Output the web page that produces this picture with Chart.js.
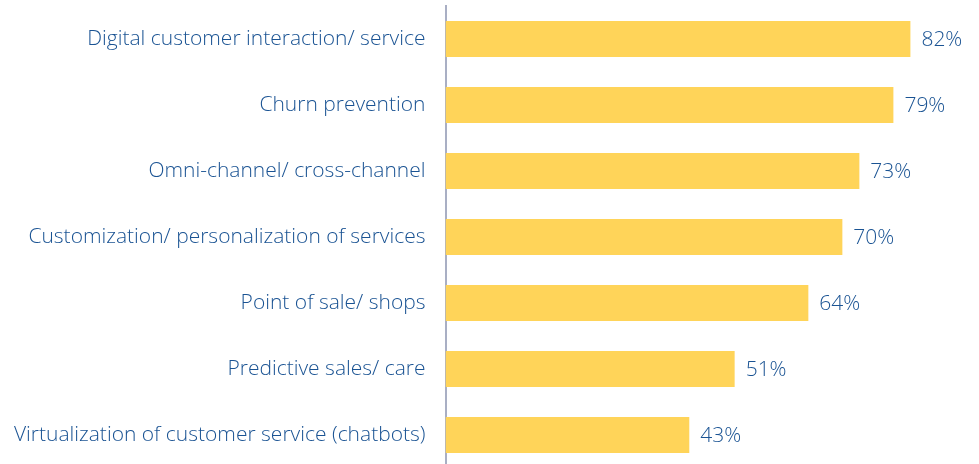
<!DOCTYPE html>
<html><head><meta charset="utf-8">
<script src="https://cdn.jsdelivr.net/npm/chart.js@4"></script>
<style>html,body{margin:0;padding:0;background:#fff;overflow:hidden}#wrap{width:979px;height:468px;position:relative}</style>
</head><body><div id="wrap"><canvas id="c"></canvas></div>
<script>
const categories = [
  "Digital customer interaction/ service",
  "Churn prevention",
  "Omni-channel/ cross-channel",
  "Customization/ personalization of services",
  "Point of sale/ shops",
  "Predictive sales/ care",
  "Virtualization of customer service (chatbots)"
];
const values = [82, 79, 73, 70, 64, 51, 43];
const valueLabels = ["82%", "79%", "73%", "70%", "64%", "51%", "43%"];

const TEXT = '#1a5393';
const FONT = {family: 'Open Sans', size: 21, weight: '300'};

const labelPlugin = {
  id: 'valLabels',
  afterDatasetsDraw(chart) {
    const ctx = chart.ctx;
    const meta = chart.getDatasetMeta(0);
    ctx.save();
    ctx.fillStyle = TEXT;
    ctx.font = `${FONT.weight} ${FONT.size}px ${FONT.family}`;
    ctx.textAlign = 'left';
    ctx.textBaseline = 'middle';
    meta.data.forEach((bar, i) => {
      ctx.fillText(valueLabels[i], bar.x + 11, bar.y + 1);
    });
    ctx.restore();
  }
};

new Chart(document.getElementById('c'), {
  type: 'bar',
  data: {
    labels: categories,
    datasets: [{
      data: values,
      backgroundColor: '#ffd459',
      borderWidth: 0,
      barPercentage: 0.545,
      categoryPercentage: 1
    }]
  },
  options: {
    indexAxis: 'y',
    responsive: true,
    maintainAspectRatio: false,
    animation: false,
    layout: {padding: {top: 6, right: 0, bottom: 0, left: 0}},
    plugins: {legend: {display: false}, tooltip: {enabled: false}},
    scales: {
      x: {display: false, min: 0, max: 94.1},
      y: {
        afterFit(s) { s.width = 445.5; s.paddingTop = 0; s.paddingBottom = 0; },
        grid: {display: false, drawTicks: false},
        border: {display: true, color: '#a9afc4', width: 2},
        ticks: {color: TEXT, font: FONT, padding: 20, crossAlign: 'near'}
      }
    }
  },
  plugins: [labelPlugin]
});
</script></body></html>
